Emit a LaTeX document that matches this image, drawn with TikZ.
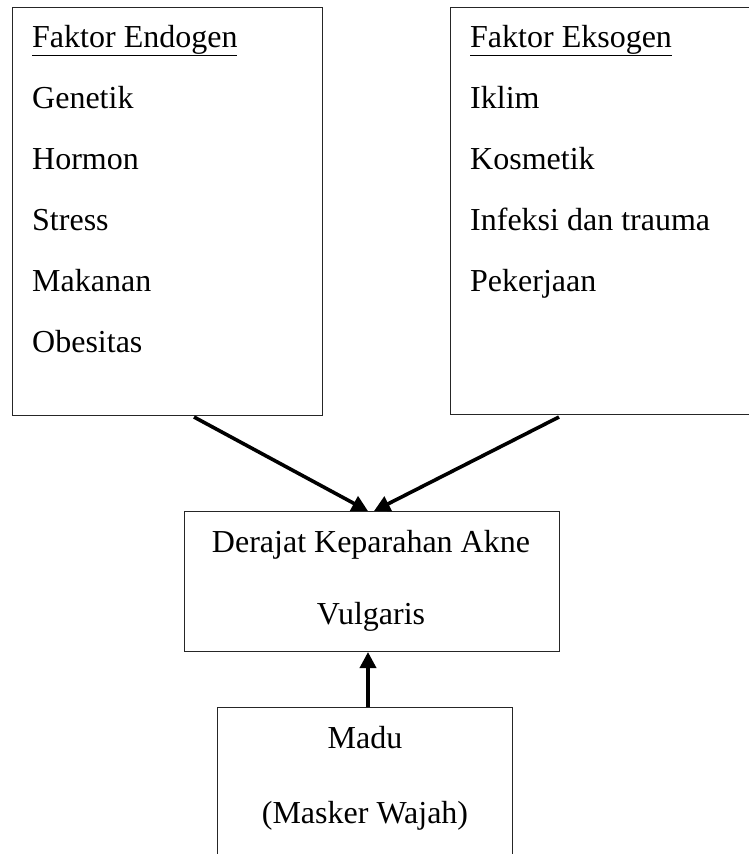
\documentclass[tikz,border=0pt]{standalone}
\usepackage{fontspec}
\setmainfont{Liberation Serif}
\usetikzlibrary{arrows.meta}
\begin{document}
\begin{tikzpicture}[x=1pt,y=-1pt,
  boxx/.style={draw=black!85, line width=1.3pt, anchor=north west, inner sep=0pt},
  txt/.style={anchor=base west, inner sep=0pt, font=\fontsize{32}{38}\selectfont},
  ctxt/.style={anchor=base, inner sep=0pt, font=\fontsize{32}{38}\selectfont},
  arr/.style={line width=3.6pt, -{Triangle[length=16pt,width=16pt]}}]
\useasboundingbox (0,0) rectangle (748,854);
% boxes
\node[boxx, minimum width=310pt, minimum height=408pt] (endo) at (12,7) {};
\node[boxx, minimum width=420pt, minimum height=407pt] (ekso) at (450,7) {};
\node[boxx, minimum width=375pt, minimum height=140pt] (akne) at (184,511) {};
\node[boxx, minimum width=295pt, minimum height=200pt] (madu) at (217,707) {};
% left texts
\node[txt] (e0) at (32,47) {\underline{Faktor Endogen}};
\node[txt] (e1) at (32,108) {Genetik};
\node[txt] (e2) at (32,169) {Hormon};
\node[txt] (e3) at (32,230) {Stress};
\node[txt] (e4) at (32,291) {Makanan};
\node[txt] (e5) at (32,352) {Obesitas};
% right texts
\node[txt] (k0) at (470,47) {\underline{Faktor Eksogen}};
\node[txt] (k1) at (470,108) {Iklim};
\node[txt] (k2) at (470,169) {Kosmetik};
\node[txt] (k3) at (470,230) {Infeksi dan trauma};
\node[txt] (k4) at (470,291) {Pekerjaan};
% middle texts
\node[ctxt] (a1) at (371,552) {Derajat Keparahan Akne};
\node[ctxt] (a2) at (371,624) {Vulgaris};
% bottom texts
\node[ctxt] (m1) at (365,748) {Madu};
\node[ctxt] (m2) at (365,823) {(Masker Wajah)};
% connectors
\coordinate (s1) at (194,417);
\coordinate (t1) at (368,511);
\coordinate (s2) at (559,417);
\coordinate (t2) at (374,511);
\coordinate (s3) at (368,707);
\coordinate (t3) at (368,652);
\draw[arr] (s1) -- (t1);
\draw[arr] (s2) -- (t2);
\draw[arr] (s3) -- (t3);
\end{tikzpicture}
\end{document}
